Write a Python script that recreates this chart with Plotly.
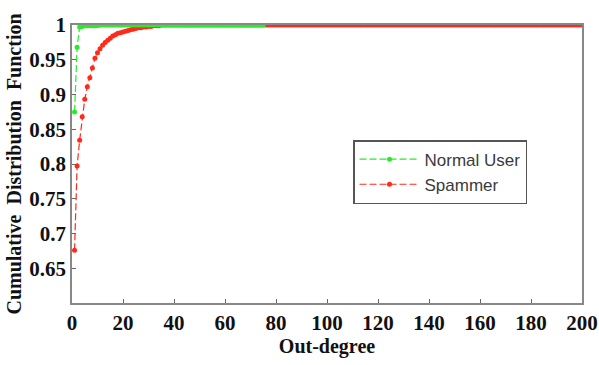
import plotly.graph_objects as go

# Normal User CDF (out-degree 1..75)
normal_x = list(range(1, 76))
normal_head = [0.875, 0.968, 0.997, 0.998, 0.999, 0.999, 0.999, 0.999, 0.999, 0.999]
normal_y = normal_head + [1.0] * (len(normal_x) - len(normal_head))

# Spammer CDF (out-degree 1..200)
spam_x = list(range(1, 201))
spam_head = [0.676, 0.797, 0.834, 0.868, 0.893, 0.911, 0.924, 0.938, 0.952, 0.960,
             0.966, 0.971, 0.975, 0.978, 0.981, 0.984, 0.986, 0.988, 0.989, 0.990,
             0.991, 0.992, 0.993, 0.994, 0.995, 0.996, 0.996, 0.997, 0.997, 0.998,
             0.998, 0.999, 0.999, 0.999]
spam_y = spam_head + [1.0] * (len(spam_x) - len(spam_head))

x_ticks = list(range(0, 201, 20))
y_ticks = [0.65, 0.7, 0.75, 0.8, 0.85, 0.9, 0.95, 1]
y_tick_text = ["0.65", "0.7", "0.75", "0.8", "0.85", "0.9", "0.95", "1"]

TICKFONT = dict(family="Liberation Serif", size=21, color="#111111", weight="bold")
TITLEFONT = dict(family="Liberation Serif", size=20, color="#111111", weight="bold")

fig = go.Figure()
fig.add_trace(go.Scatter(x=spam_x, y=spam_y, name="Spammer", mode="lines+markers",
                         line=dict(color="#ff2a1a", width=1.2, dash="7px,3px"),
                         marker=dict(color="#ff2a1a", size=5, symbol="circle")))
fig.add_trace(go.Scatter(x=normal_x, y=normal_y, name="Normal User", mode="lines+markers",
                         line=dict(color="#22f022", width=1.2, dash="7px,3px"),
                         marker=dict(color="#22f022", size=5, symbol="circle")))

fig.update_layout(
    width=599, height=365,
    margin=dict(l=72, r=17, t=25, b=62, autoexpand=False),
    paper_bgcolor="white", plot_bgcolor="white",
    legend=dict(x=0.551, y=0.586, xanchor="left", yanchor="top", traceorder="reversed",
                bordercolor="#555555", borderwidth=1.5, bgcolor="white",
                font=dict(family="Liberation Sans", size=17, color="#3a3a3a"),
                itemwidth=60, tracegroupgap=0),
    showlegend=True,
)
fig.update_xaxes(range=[0, 200], tickvals=x_ticks, automargin=False,
                 showgrid=False, zeroline=False, showline=True, linecolor="#888888",
                 linewidth=1.5, mirror=True, ticks="inside", ticklen=4, tickcolor="#666666",
                 tickfont=TICKFONT,
                 title=dict(text="Out-degree", standoff=0, font=TITLEFONT))
fig.update_yaxes(range=[0.6, 1.0], tickvals=y_ticks, ticktext=y_tick_text, automargin=False,
                 showgrid=False, zeroline=False, showline=True, linecolor="#888888",
                 linewidth=1.5, mirror=True, ticks="inside", ticklen=4, tickcolor="#666666",
                 tickfont=TICKFONT,
                 title=dict(text="Cumulative  Distribution  Function", standoff=2,
                            font=TITLEFONT))

fig.write_html("out.html", config={"displayModeBar": False},
               post_script="document.body.style.margin='0';document.body.style.overflow='hidden';")
